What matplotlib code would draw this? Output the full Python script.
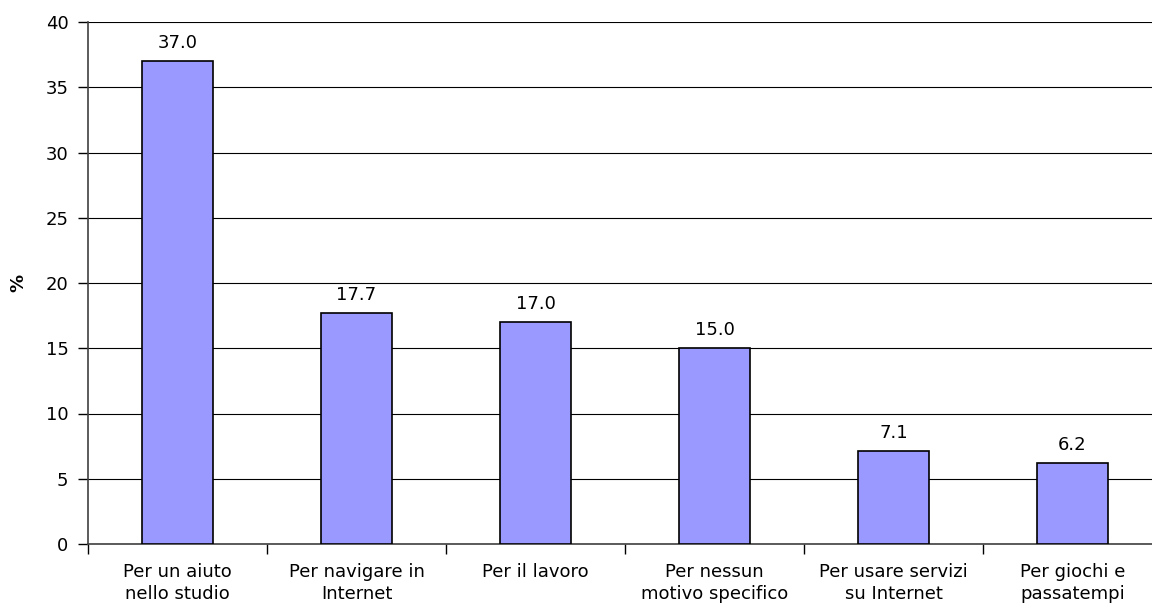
import numpy as np
import matplotlib
matplotlib.use('Agg')
import matplotlib.pyplot as plt

plt.rcParams['font.family'] = ['DejaVu Sans']

categories = ['Per un aiuto\nnello studio', 'Per navigare in\nInternet', 'Per il lavoro',
              'Per nessun\nmotivo specifico', 'Per usare servizi\nsu Internet', 'Per giochi e\npassatempi']
values = [37.0, 17.7, 17.0, 15.0, 7.1, 6.2]
yticks = [0, 5, 10, 15, 20, 25, 30, 35, 40]

W, H = 1152, 605
fig = plt.figure(figsize=(W / 100, H / 100), dpi=100)
# axes box in pixels: left 88, right 1162 (past the edge), top 22, bottom 544
ax = fig.add_axes([88 / W, 1 - 544 / H, (1162 - 88) / W, (544 - 22) / H])

x = np.arange(len(values))
ax.bar(x, values, width=0.4, color='#9999FF', edgecolor='black', linewidth=1.2, zorder=3)
for xi, v in zip(x, values):
    ax.text(xi, v + 0.7, f'{v:.1f}', ha='center', va='bottom', fontsize=13)

ax.set_xlim(-0.5, len(values) - 0.5)
ax.set_ylim(0, 40)
ax.set_yticks(yticks)
ax.yaxis.grid(True, color='black', linewidth=0.8, zorder=0)
ax.tick_params(axis='y', labelsize=13, length=7, width=1, direction='out', pad=7)

ax.set_xticks(np.arange(len(values) + 1) - 0.5)
ax.set_xticklabels([])
ax.tick_params(axis='x', length=7, width=1, direction='out')
ax.set_xticks(x, minor=True)
ax.set_xticklabels(categories, minor=True, fontsize=13, linespacing=1.28)
ax.tick_params(axis='x', which='minor', length=0, pad=14)

for s in ['top', 'right']:
    ax.spines[s].set_visible(False)
for s in ['left', 'bottom']:
    ax.spines[s].set_color('#404040')
    ax.spines[s].set_linewidth(1.2)

fig.text(18 / W, 1 - 283 / H, '%', rotation=90, ha='center', va='center',
         fontsize=13, fontweight='bold')

fig.savefig('out.png', dpi=100)
